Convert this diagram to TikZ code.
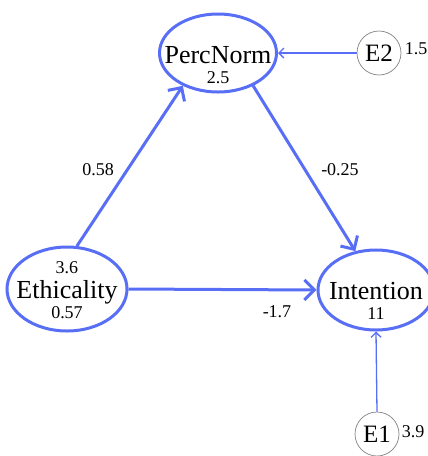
\documentclass[tikz,border=0pt]{standalone}
\usepackage{fontspec}
\setmainfont{Liberation Serif}
\usetikzlibrary{shapes.geometric,arrows.meta}
\definecolor{semblue}{RGB}{88,110,245}
\definecolor{errgray}{RGB}{130,130,130}
\tikzset{
  latent/.style={ellipse, draw=semblue, line width=3pt, inner sep=0pt},
  errnode/.style={circle, draw=errgray, line width=0.7pt, minimum size=44pt, inner sep=0pt, font=\fontsize{25}{28}\selectfont},
  bigtxt/.style={inner sep=0pt, font=\fontsize{26}{30}\selectfont},
  smalltxt/.style={inner sep=0pt, font=\fontsize{18}{20}\selectfont},
  thickpath/.style={draw=semblue, line width=3pt, -{Straight Barb[length=10pt,width=20pt,line width=3pt]}},
  thinpath/.style={draw=semblue, line width=1.3pt, -{Straight Barb[length=5pt,width=10pt,line width=1.3pt]}},
}
\begin{document}
\begin{tikzpicture}[x=1pt,y=-1pt]
\useasboundingbox (0,0) rectangle (428,456);
% latent variables
\node[latent, minimum width=117pt, minimum height=78pt] (pn) at (218,53) {};
\node[latent, minimum width=120pt, minimum height=84pt] (eth) at (67,289) {};
\node[latent, minimum width=116pt, minimum height=80pt] (int) at (376,290) {};
% error nodes
\node[errnode] (e2) at (379,53) {E2};
\node[errnode] (e1) at (377,434) {E1};
% texts in nodes
\node[bigtxt] (pnt) at (218,55) {PercNorm};
\node[smalltxt] (pnv) at (218,78) {2.5};
\node[smalltxt] (ethm) at (67,268) {3.6};
\node[bigtxt] (etht) at (67,292) {Ethicality};
\node[smalltxt] (ethv) at (67,313) {0.57};
\node[bigtxt] (intt) at (376,291) {Intention};
\node[smalltxt] (intv) at (376,314) {11};
\node[smalltxt] (e2v) at (416,49) {1.5};
\node[smalltxt] (e1v) at (413,432) {3.9};
% paths
\draw[thickpath] (eth.77) -- (pn.223);
\draw[thickpath] (pn.317) -- (int.118);
\draw[thickpath] (eth.east) -- (int.west);
\draw[thinpath] (e2.west) -- (pn.east);
\draw[thinpath] (e1.north) -- (int.south);
% edge labels
\node[smalltxt] (l1) at (98,170) {0.58};
\node[smalltxt] (l2) at (340,170) {-0.25};
\node[smalltxt] (l3) at (277,312) {-1.7};
\end{tikzpicture}
\end{document}
